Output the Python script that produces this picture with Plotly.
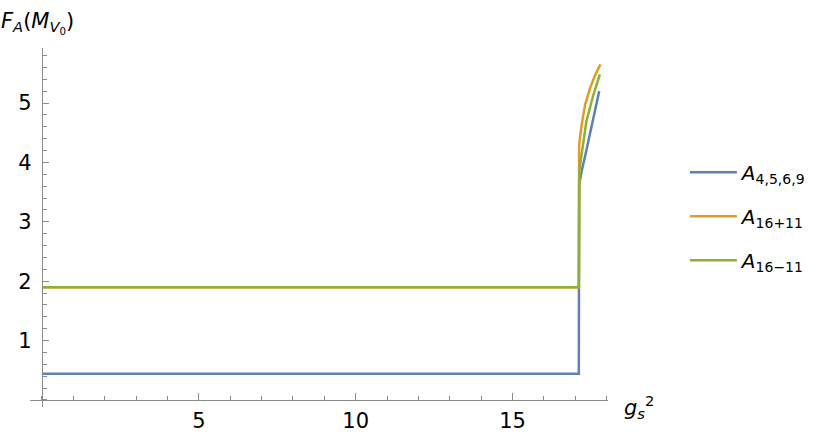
# F_A(M_V0) vs g_s^2 — Mathematica-style line plot rebuilt in plotly.
import plotly.graph_objects as go

# values
blue_x = [0, 17.11, 17.12, 17.20, 17.35, 17.57, 17.76]
blue_y = [0.44, 0.44, 3.62, 3.85, 4.20, 4.74, 5.20]
orange_x = [0, 17.11, 17.12, 17.20, 17.31, 17.47, 17.63, 17.80]
orange_y = [1.90, 1.90, 4.30, 4.63, 4.97, 5.25, 5.47, 5.65]
green_x = [0, 17.11, 17.13, 17.35, 17.57, 17.78]
green_y = [1.90, 1.90, 3.88, 4.69, 5.13, 5.48]

names = ["<i>A</i><sub>4,5,6,9</sub>", "<i>A</i><sub>16+11</sub>", "<i>A</i><sub>16−11</sub>"]
colors = ["#5E81B5", "#E19C24", "#8FB032"]
x_ticks = [5, 10, 15]
y_ticks = [1, 2, 3, 4, 5]

X_RANGE = [-0.38, 18.04]
Y_RANGE = [-0.118, 5.926]
FONT = "DejaVu Sans"
AX = "#8c8c8c"

fig = go.Figure()
for i, (xs, ys) in enumerate([(blue_x, blue_y), (orange_x, orange_y), (green_x, green_y)]):
    fig.add_trace(go.Scatter(x=xs, y=ys, mode="lines", name=names[i],
                             legendgroup=str(i),
                             line=dict(color=colors[i], width=2.5)))

# place the axis lines through the origin, like Mathematica's Axes
x0_frac = (0 - X_RANGE[0]) / (X_RANGE[1] - X_RANGE[0])
y0_frac = (0 - Y_RANGE[0]) / (Y_RANGE[1] - Y_RANGE[0])

fig.update_layout(
    width=830, height=437,
    margin=dict(l=30, r=222, t=48, b=30),
    paper_bgcolor="white", plot_bgcolor="white",
    font=dict(family=FONT, size=21, color="#000"),
    showlegend=True,
    legend=dict(x=1.133, y=0.708, xanchor="left", yanchor="top",
                font=dict(size=20), tracegroupgap=15, itemwidth=47,
                bgcolor="rgba(0,0,0,0)"),
    xaxis=dict(range=X_RANGE, anchor="free", position=y0_frac, automargin=False,
               showgrid=False, zeroline=False, showline=True,
               linecolor=AX, linewidth=1,
               tickvals=x_ticks, ticks="inside", ticklen=7, tickcolor=AX,
               ticklabelstandoff=2,
               minor=dict(dtick=1, tick0=0, ticks="inside", ticklen=4, tickcolor=AX),
               tickfont=dict(size=21)),
    yaxis=dict(range=Y_RANGE, anchor="free", position=x0_frac, automargin=False,
               showgrid=False, zeroline=False, showline=True,
               linecolor=AX, linewidth=1,
               tickvals=y_ticks, ticks="inside", ticklen=6, tickcolor=AX,
               ticklabelstandoff=6,
               minor=dict(dtick=0.2, tick0=0, ticks="inside", ticklen=4, tickcolor=AX),
               tickfont=dict(size=21)),
    annotations=[
        dict(text="<i>F</i><sub><i>A</i></sub>(<i>M</i><sub><i>V</i><sub>0</sub></sub>)",
             xref="paper", yref="paper", x=-0.05, y=1.0, xanchor="left", yanchor="bottom",
             xshift=-2, yshift=9, showarrow=False, font=dict(size=21)),
        dict(text="<i>g</i><sub><i>s</i></sub><sup>2</sup>",
             xref="paper", yref="paper", x=1.0, y=y0_frac, xanchor="left", yanchor="middle",
             xshift=14, yshift=-7, showarrow=False, font=dict(size=21)),
    ],
)

# the page body has a default 8px margin; drop it so the figure fills the window
fig.write_html("out.html", config={"displayModeBar": False},
               post_script="document.body.style.margin='0';")
